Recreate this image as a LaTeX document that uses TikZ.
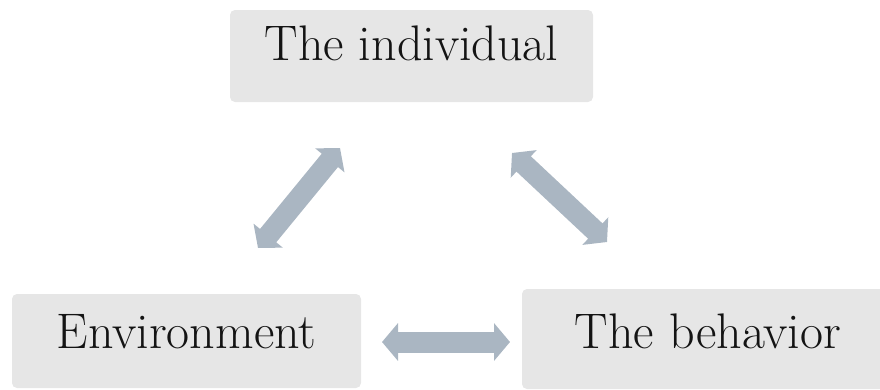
\documentclass[tikz,border=0pt]{standalone}
\usepackage{fontspec}
\usetikzlibrary{arrows.meta}
\definecolor{boxgray}{RGB}{230,230,230}
\definecolor{arrowblue}{RGB}{170,182,194}
\definecolor{textdark}{RGB}{20,20,20}

\begin{document}
\begin{tikzpicture}[x=1pt, y=-1pt,
  box/.style={fill=boxgray, rounded corners=5pt, inner sep=0pt, text=textdark,
    font=\fontsize{50}{60}\selectfont},
  twoway/.style={arrowblue, line width=21pt,
    {Triangle[width=37pt,length=16pt]}-{Triangle[width=37pt,length=16pt]}}]
  \useasboundingbox (0,0) rectangle (880,389);
  \node[box, minimum width=363pt, text height=50pt, text depth=42pt] (indiv) at (411.5,56) {The individual};
  \node[box, minimum width=349pt, text height=54pt, text depth=40pt] (env) at (186.5,341) {Environment};
  \node[box, minimum width=372pt, text height=59pt, text depth=41pt] (behav) at (708,339) {The behavior};
  % free-floating double arrows
  \coordinate (envtip) at (258,248);
  \coordinate (indleft) at (340,148);
  \coordinate (indright) at (512,153);
  \coordinate (behtip) at (607,242);
  \coordinate (envside) at (382,342);
  \coordinate (behside) at (510,342);
  \draw[twoway] (envtip) -- (indleft);
  \draw[twoway] (indright) -- (behtip);
  \draw[twoway] (envside) -- (behside);
\end{tikzpicture}
\end{document}
